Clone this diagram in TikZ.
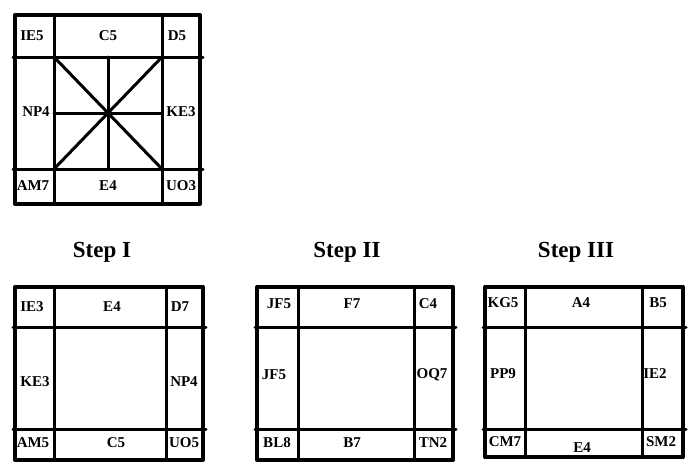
\documentclass[tikz,border=0pt]{standalone}
\usepackage{fontspec}
\setmainfont{Liberation Serif}
\begin{document}
\begin{tikzpicture}[x=1pt, y=-1pt, line join=round, line cap=round, font=\bfseries\fontsize{15}{17}\selectfont,
	frame/.style={line width=4pt}, grid/.style={line width=3pt},
	steptitle/.style={font=\bfseries\fontsize{23}{25}\selectfont}]
	\useasboundingbox (0,0) rectangle (694,469);
	% top square
	\draw[frame] (15,15) rectangle (200,204);
	\draw[grid] (54,15)--(54,204) (162,15)--(162,204);
	\draw[grid] (13,57)--(203,57) (13,169)--(203,169);
	\draw[grid] (54,57)--(162,169) (162,57)--(54,169);
	\draw[grid] (108,57)--(108,169) (54,113)--(162,113);
	\node (ie5) at (32,36) {IE5};
	\node (c5) at (108,36) {C5};
	\node (d5) at (177,36) {D5};
	\node (np4) at (36,112) {NP4};
	\node (ke3) at (181,112) {KE3};
	\node (am7) at (33,186) {AM7};
	\node (e4) at (108,186) {E4};
	\node (uo3) at (181,186) {UO3};
	% the three steps
	\foreach \l/\r/\a/\b/\bot in {15/203/54/166/460, 257/453/298/414/460, 485/683/525/642/457}{
		\draw[frame] (\l,287) rectangle (\r,\bot);
		\draw[grid] (\a,287)--(\a,\bot) (\b,287)--(\b,\bot);
		\draw[grid] (\l-2,327)--(\r+3,327) (\l-2,429)--(\r+3,429);
	}
	\node[steptitle] (stepI) at (102,252) {Step I};
	\node[steptitle] (stepII) at (347,252) {Step II};
	\node[steptitle] (stepIII) at (576,252) {Step III};
	% step I
	\node (ie3) at (32,307) {IE3};
	\node (e4a) at (112,307) {E4};
	\node (d7) at (180,307) {D7};
	\node (ke3a) at (35,382) {KE3};
	\node (np4a) at (184,382) {NP4};
	\node (am5) at (33,443) {AM5};
	\node (c5a) at (116,443) {C5};
	\node (uo5) at (184,443) {UO5};
	% step II
	\node (jf5) at (279,304) {JF5};
	\node (f7) at (352,304) {F7};
	\node (c4) at (428,304) {C4};
	\node (jf5a) at (274,375) {JF5};
	\node (oq7) at (432,375) {OQ7};
	\node (bl8) at (277,443) {BL8};
	\node (b7) at (352,443) {B7};
	\node (tn2) at (433,443) {TN2};
	% step III
	\node (kg5) at (503,303) {KG5};
	\node (a4) at (581,303) {A4};
	\node (b5) at (658,303) {B5};
	\node (pp9) at (503,374) {PP9};
	\node (ie2) at (655,374) {IE2};
	\node (cm7) at (505,442) {CM7};
	\node (e4b) at (582,448) {E4};
	\node (sm2) at (661,442) {SM2};
\end{tikzpicture}
\end{document}
